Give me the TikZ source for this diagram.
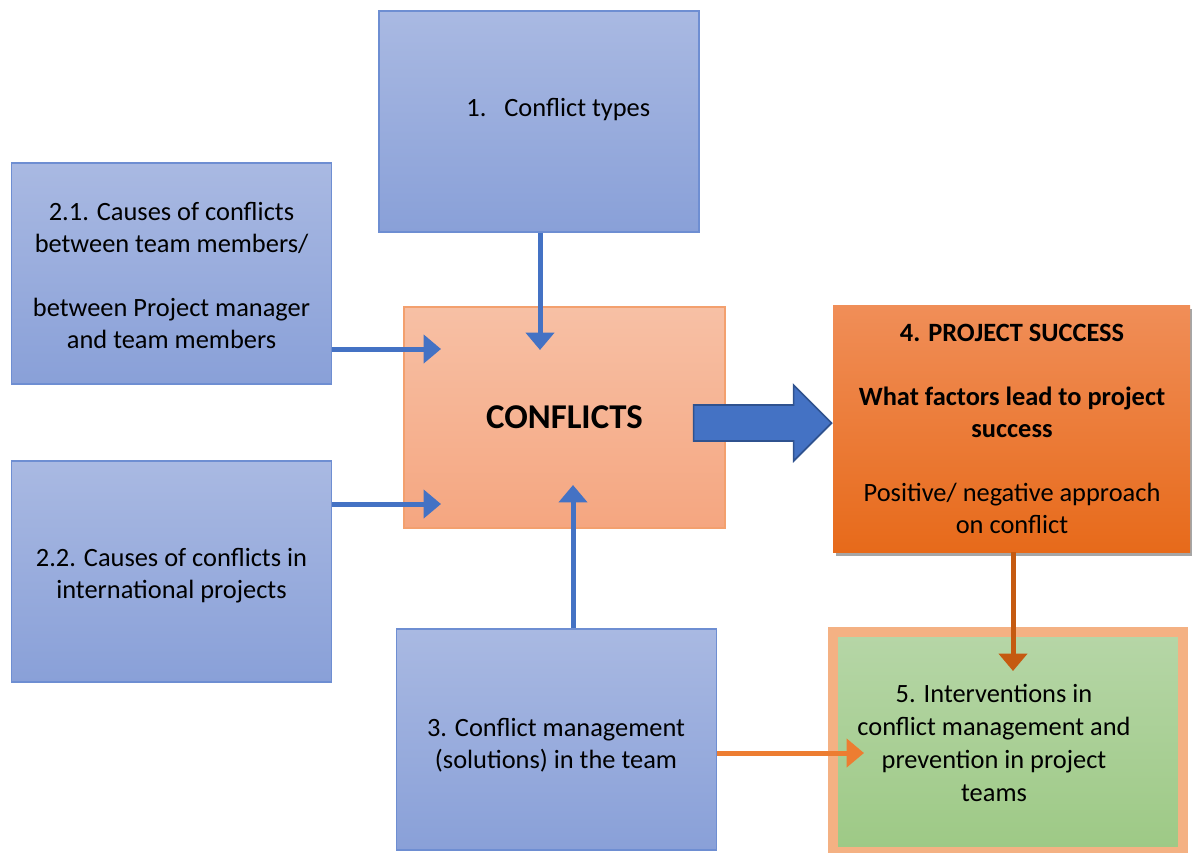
\documentclass[tikz,border=0pt]{standalone}
\usepackage{fontspec}
\setmainfont{Carlito}
\usetikzlibrary{arrows.meta,shadows,calc}
\definecolor{bluetop}{RGB}{169,185,226}
\definecolor{bluebot}{RGB}{137,160,216}
\definecolor{blueedge}{RGB}{110,142,210}
\definecolor{conftop}{RGB}{247,192,165}
\definecolor{confbot}{RGB}{245,166,128}
\definecolor{confedge}{RGB}{243,160,110}
\definecolor{orgtop}{RGB}{240,142,88}
\definecolor{orgbot}{RGB}{231,106,26}
\definecolor{greentop}{RGB}{182,214,167}
\definecolor{greenbot}{RGB}{157,201,133}
\definecolor{greenedge}{RGB}{244,177,131}
\definecolor{arrblue}{RGB}{68,114,196}
\definecolor{arrblueedge}{RGB}{47,82,143}
\definecolor{arrdark}{RGB}{197,90,17}
\definecolor{arrorange}{RGB}{237,125,49}
\tikzset{
  bodyfont/.style={font=\fontsize{13.2}{16}\selectfont},
  bluebox/.style={draw=blueedge, line width=0.6pt, top color=bluetop, bottom color=bluebot,
    minimum width=160pt, minimum height=110.5pt, inner sep=0pt, align=center, bodyfont},
  txt/.style={align=center, inner sep=0pt, bodyfont},
  arr/.style={line width=2.5pt, -{Triangle[length=8.7pt,width=14pt]}},
}
\begin{document}
\begin{tikzpicture}[x=0.5pt,y=-0.5pt]
\useasboundingbox (0,0) rectangle (1192,852);
% boxes
\node[bluebox] (b1) at (539,121.5) {};
\node[txt, anchor=base west] (t1txt) at (466,116) {\makebox[19pt][l]{1.}Conflict types};
\node[bluebox] (b21) at (171.5,273.5) {};
\node[txt, anchor=base] (b21txt) at (171.5,348) {2.1. Causes of conflicts\\between team members/\\[16pt]between Project manager\\and team members};
\node[bluebox] (b22) at (171.5,571.5) {};
\node[txt, anchor=base] (b22txt) at (171.5,598) {2.2. Causes of conflicts in\\international projects};
\node[draw=confedge, line width=0.6pt, top color=conftop, bottom color=confbot,
  minimum width=160.5pt, minimum height=110.5pt, inner sep=0pt,
  font=\fontsize{17.4}{22}\selectfont\bfseries] (conf) at (564.5,417.5) {CONFLICTS};
\node[bluebox] (b3) at (556.5,739.5) {};
\node[txt, anchor=base] (b3txt) at (556,768) {3. Conflict management\\(solutions) in the team};
\node[top color=orgtop, bottom color=orgbot, minimum width=178.5pt, minimum height=123.5pt,
  inner sep=0pt, drop shadow={shadow xshift=1.5pt, shadow yshift=-2pt, fill=black, opacity=0.35}] (o4) at (1011.5,428.5) {};
\node[txt, anchor=base, font=\fontsize{13.2}{16}\selectfont] (o4txt) at (1012,533)
  {\textbf{4. PROJECT SUCCESS}\\[16pt]\textbf{What factors lead to project}\\\textbf{success}\\[16pt]Positive/ negative approach\\on conflict};
\node[draw=greenedge, line width=5pt, top color=greentop, bottom color=greenbot,
  minimum width=175pt, minimum height=110pt, inner sep=0pt] (g5) at (1008,742) {};
\node[txt, anchor=base, font=\fontsize{13.2}{16.5}\selectfont] (g5txt) at (994,801) {5. Interventions in\\conflict management and\\prevention in project\\teams};
% arrows
\coordinate (tip1) at (540,350);
\coordinate (tip21) at (441,349);
\coordinate (tip22) at (441,504);
\coordinate (tip3) at (573,485);
\coordinate (tip4) at (1013,671);
\coordinate (tip5) at (864,753);
\draw[arr, draw=arrblue] (b1.south -| tip1) -- (tip1);
\draw[arr, draw=arrblue] (b21.east |- tip21) -- (tip21);
\draw[arr, draw=arrblue] (b22.east |- tip22) -- (tip22);
\draw[arr, draw=arrblue] (b3.north -| tip3) -- (tip3);
\draw[arr, draw=arrdark] (o4.south -| tip4) -- (tip4);
\draw[arr, draw=arrorange] (b3.east |- tip5) -- (tip5);
% block arrow
\coordinate (ba) at ($(conf.east)+(-32,5.5)$);
\draw[fill=arrblue, draw=arrblueedge, line width=0.8pt] (ba) ++(0,-18) -- ++(100,0) -- ++(0,-20)
  -- ++(38,38) -- ++(-38,38) -- ++(0,-20) -- ++(-100,0) -- cycle;
\end{tikzpicture}
\end{document}
